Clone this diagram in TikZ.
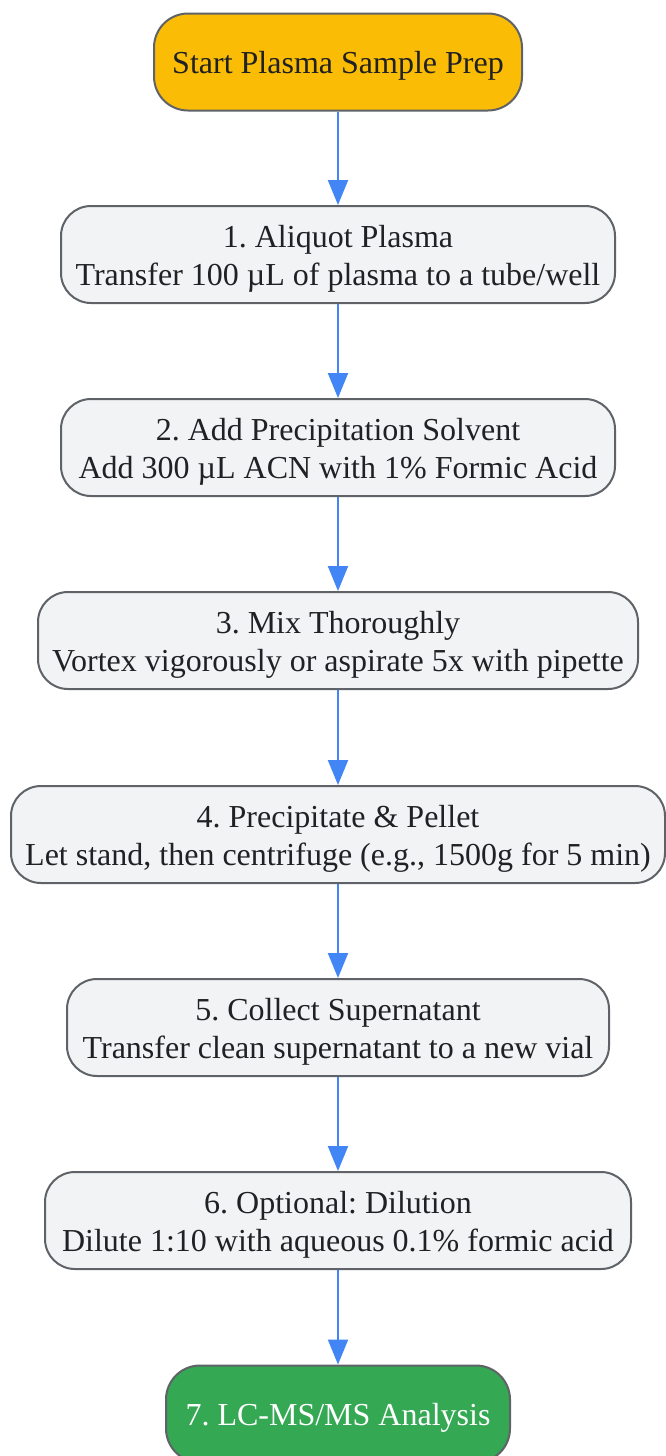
\documentclass[tikz,border=0pt]{standalone}
\usepackage{fontspec}
\setmainfont{Liberation Serif}
\usetikzlibrary{arrows.meta}
\frenchspacing
\definecolor{startfill}{HTML}{FBBC05}
\definecolor{stepfill}{HTML}{F1F3F4}
\definecolor{endfill}{HTML}{34A853}
\definecolor{bordercol}{HTML}{5F6368}
\definecolor{arrowcol}{HTML}{4285F4}
\definecolor{textcol}{HTML}{202124}
\newcommand\boxtext[1]{\raisebox{-4pt}[\height][\depth]{\begin{tabular}{@{}c@{}}#1\end{tabular}}}
\tikzset{
  box/.style={draw=bordercol, line width=2pt, rounded corners=30pt, align=center,
    text=textcol, font=\fontsize{32}{38}\selectfont, inner sep=0pt, minimum height=97pt},
  startbox/.style={box, fill=startfill, rounded corners=34pt},
  stepbox/.style={box, fill=stepfill},
  endbox/.style={box, fill=endfill, text=white, rounded corners=34pt},
  flow/.style={draw=arrowcol, line width=2pt, -{Triangle[length=25pt,width=20pt]}}
}
\begin{document}
\begin{tikzpicture}[x=1pt,y=-1pt]
\useasboundingbox[fill=white] (0,0) rectangle (665,1456);
\node[startbox, minimum width=368pt] (s) at (338,62) {\boxtext{Start Plasma Sample Prep}};
\node[stepbox, minimum width=554pt] (n1) at (338,254.5) {\boxtext{1. Aliquot Plasma\\Transfer 100 µL of plasma to a tube/well}};
\node[stepbox, minimum width=554pt] (n2) at (338,447.5) {\boxtext{2. Add Precipitation Solvent\\Add 300 µL ACN with 1\% Formic Acid}};
\node[stepbox, minimum width=600pt] (n3) at (338,640.5) {\boxtext{3. Mix Thoroughly\\Vortex vigorously or aspirate 5x with pipette}};
\node[stepbox, minimum width=654pt] (n4) at (338,834.5) {\boxtext{4. Precipitate \& Pellet\\Let stand, then centrifuge (e.g., 1500g for 5 min)}};
\node[stepbox, minimum width=542pt] (n5) at (338,1027.5) {\boxtext{5. Collect Supernatant\\Transfer clean supernatant to a new vial}};
\node[stepbox, minimum width=586pt] (n6) at (338,1220.5) {\boxtext{6. Optional: Dilution\\Dilute 1:10 with aqueous 0.1\% formic acid}};
\node[endbox, minimum width=344pt] (e) at (338,1414) {\boxtext{7. LC-MS/MS Analysis}};
\draw[flow] (s) -- (n1);
\draw[flow] (n1) -- (n2);
\draw[flow] (n2) -- (n3);
\draw[flow] (n3) -- (n4);
\draw[flow] (n4) -- (n5);
\draw[flow] (n5) -- (n6);
\draw[flow] (n6) -- (e);
\end{tikzpicture}
\end{document}
